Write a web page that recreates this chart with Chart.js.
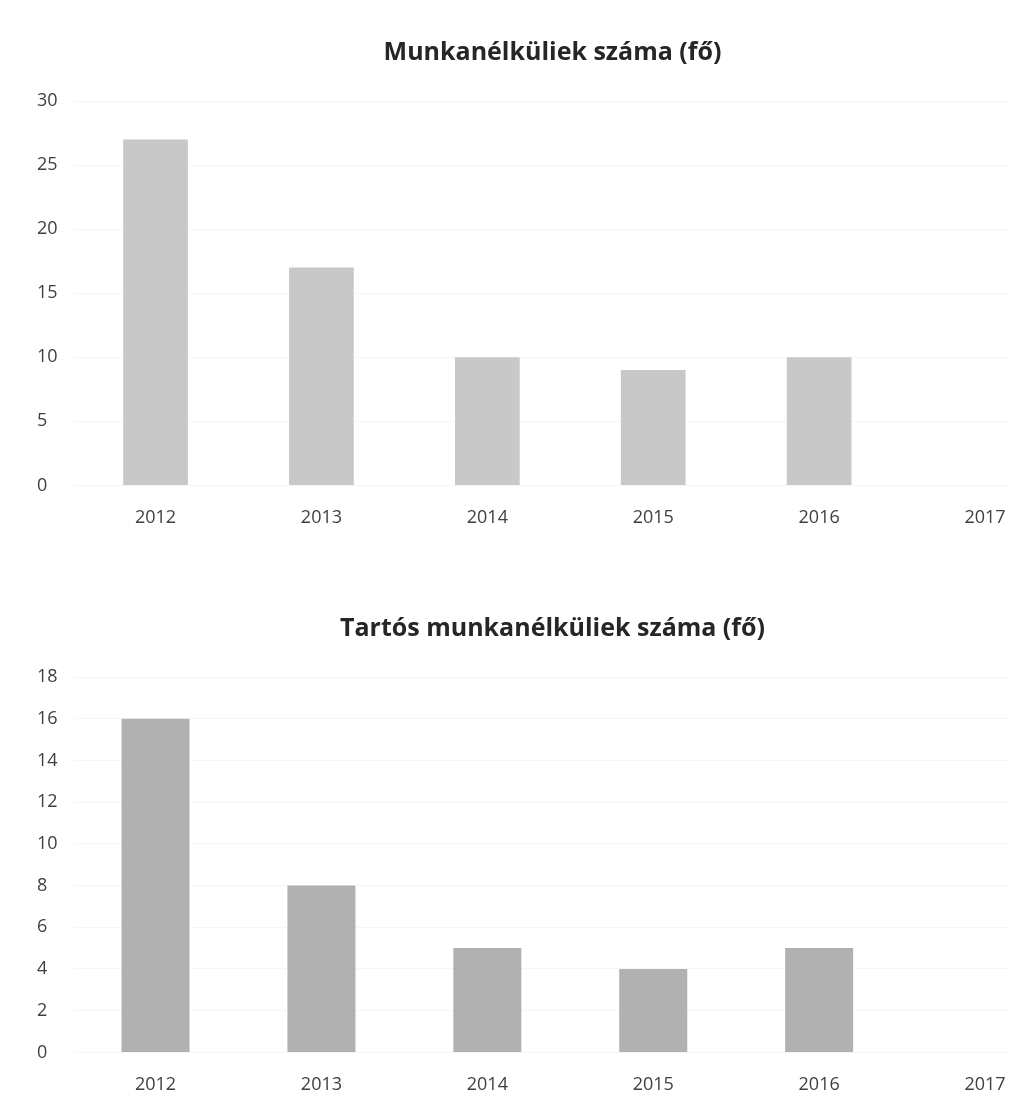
<!DOCTYPE html>
<html>
<head>
<meta charset="utf-8">
<script src="https://cdn.jsdelivr.net/npm/chart.js@4"></script>
<style>
  body { margin: 0; background: #fff; width: 1009px; height: 1101px; overflow: hidden; position: relative; }
  .box { position: absolute; left: 0; width: 1104px; }
  #box1 { top: 0; height: 569px; }
  #box2 { top: 560px; height: 564px; }
</style>
</head>
<body>
<div class="box" id="box1"><canvas id="chart1"></canvas></div>
<div class="box" id="box2"><canvas id="chart2"></canvas></div>
<script>
// data
var years = ['2012', '2013', '2014', '2015', '2016', '2017'];
var unemployed = [27, 17, 10, 9, 10, null];
var longTerm = [16, 8, 5, 4, 5, null];

var title1 = 'Munkanélküliek száma (fő)';
var title2 = 'Tartós munkanélküliek száma (fő)';

const fontName = "'Open Sans', 'Noto Sans', sans-serif";

function makeChart(id, title, values, color, yMax, yStep, barPct, titlePad, bottomPad){
    var ctx = document.getElementById(id).getContext('2d');
    return new Chart(ctx, {
        type: 'bar',
        data: {
            labels: years,
            datasets: [{
                label: title,
                data: values,
                backgroundColor: color,
                borderWidth: 0,
                barPercentage: barPct,
                categoryPercentage: 1.0
            }]
        },
        options: {
            responsive: true,
            maintainAspectRatio: false,
            animation: false,
            layout: {
                padding: { left: 37, right: 36, top: 0, bottom: bottomPad }
            },
            plugins: {
                legend: { display: false },
                tooltip: { enabled: false },
                title: {
                    display: true,
                    text: title,
                    color: '#262626',
                    font: { family: fontName, size: 25, weight: 'bold' },
                    padding: titlePad
                }
            },
            scales: {
                x: {
                    grid: { display: false, drawTicks: false },
                    border: { display: false },
                    ticks: {
                        color: '#404040',
                        padding: 22,
                        font: { family: fontName, size: 18 }
                    }
                },
                y: {
                    min: 0,
                    max: yMax,
                    grid: { color: 'rgba(0,0,0,0.035)', drawTicks: false },
                    border: { display: false },
                    ticks: {
                        stepSize: yStep,
                        color: '#404040',
                        padding: 7.5,
                        crossAlign: 'far',
                        font: { family: fontName, size: 18 }
                    }
                }
            }
        }
    });
}

makeChart('chart1', title1, unemployed, '#c8c8c8', 30, 5, 0.39, { top: 38, bottom: 33 }, 18);
makeChart('chart2', title2, longTerm, '#b1b1b1', 18, 2, 0.41, { top: 54, bottom: 33 }, 6);
</script>
</body>
</html>
